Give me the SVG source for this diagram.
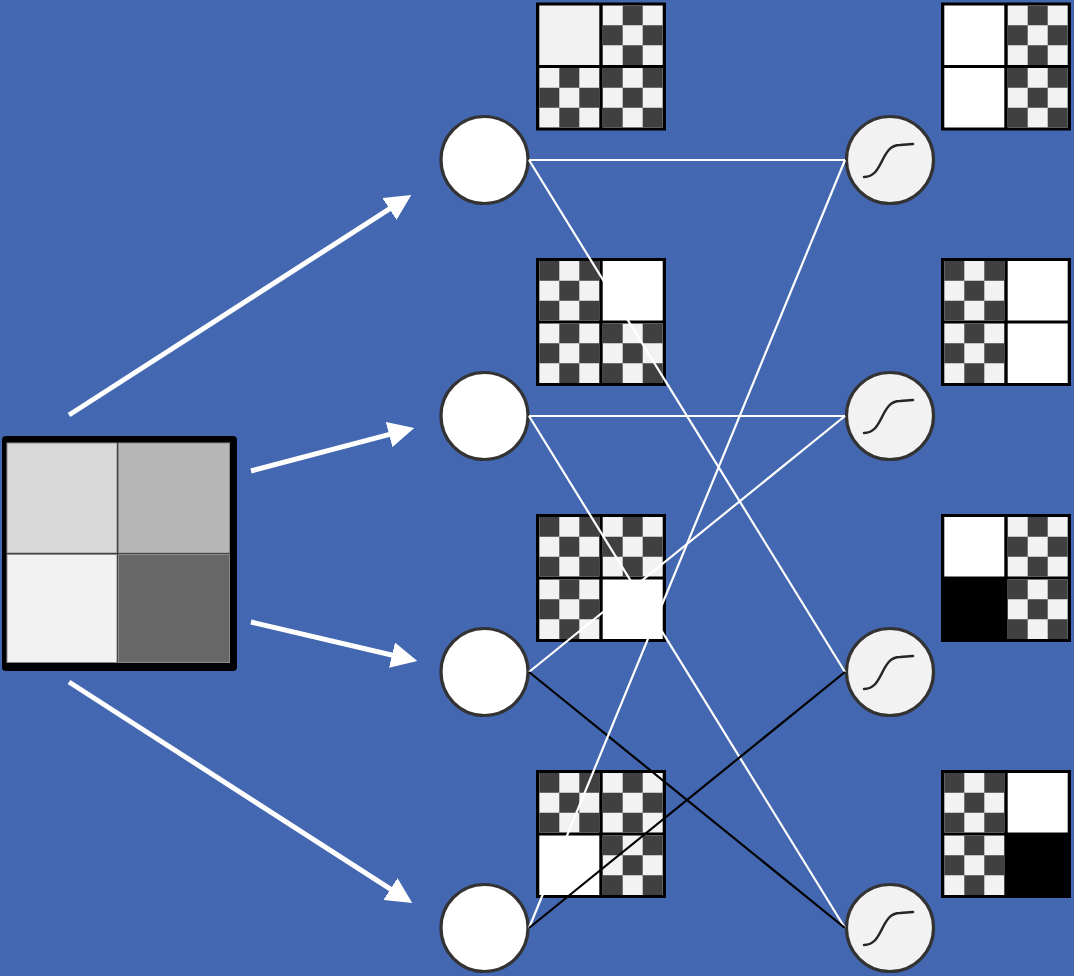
<svg xmlns="http://www.w3.org/2000/svg" width="1074" height="976" viewBox="0 0 1074 976">
<style>
.frame{fill:#000}
.hid{fill:#fff;stroke:#333;stroke-width:3.2}
.out{fill:#f2f2f2;stroke:#333;stroke-width:3.2}
.sig{fill:none;stroke:#262626;stroke-width:2.5;stroke-linecap:round}
.cw{stroke:#fff;stroke-width:2.2;fill:none}
.cb{stroke:#000;stroke-width:2.2;fill:none}
.arr{stroke:#fff;stroke-width:5;fill:none;marker-end:url(#ah)}
.cell{stroke:#8a8a8a;stroke-width:1}
</style>
<defs>
<g id="ckD">
<rect width="60" height="59.5" fill="#f2f2f2"/>
<path d="M0,0h20v19.8h-20z M40,0h20v19.8h-20z M20,19.8h20v19.9h-20z M0,39.7h20v19.8h-20z M40,39.7h20v19.8h-20z" fill="#404040"/>
</g>
<g id="ckL">
<rect width="60" height="59.5" fill="#f2f2f2"/>
<path d="M20,0h20v19.8h-20z M0,19.8h20v19.9h-20z M40,19.8h20v19.9h-20z M20,39.7h20v19.8h-20z" fill="#404040"/>
</g>
<marker id="ah" viewBox="0 0 10 10" markerWidth="5.2" markerHeight="5.2" refX="7" refY="5" orient="auto" markerUnits="strokeWidth">
<path d="M0,0 L10,5 L0,10 z" fill="#fff"/>
</marker>
<path id="sigp" d="M-26,17 C-6,17 -10,-15 10,-15 L23,-16"/>
</defs>
<rect width="1074" height="976" fill="#4467b1"/>

<g id="input">
<rect x="2" y="436" width="235" height="235" rx="4" fill="#000"/>
<rect class="cell" x="7" y="443" width="110" height="110" fill="#d9d9d9"/>
<rect class="cell" x="118.5" y="443" width="111" height="110" fill="#b7b7b7"/>
<rect class="cell" x="7" y="554.5" width="110" height="108" fill="#f2f2f2"/>
<rect class="cell" x="118.5" y="554.5" width="111" height="108" fill="#676767"/>
</g>

<g id="hidden-1">
<circle class="hid" cx="484.5" cy="160" r="43.5"/>
<g id="hidden-1-grid" transform="translate(536,2.5)">
<rect class="frame" width="130" height="128"/>
<rect x="3.3" y="3" width="60" height="59.5" fill="#f2f2f2"/>
<use href="#ckL" x="66.7" y="3"/>
<use href="#ckL" x="3.3" y="65.5"/>
<use href="#ckD" x="66.7" y="65.5"/>
</g>
</g>
<g id="hidden-2">
<circle class="hid" cx="484.5" cy="416" r="43.5"/>
<g id="hidden-2-grid" transform="translate(536,258)">
<rect class="frame" width="130" height="128"/>
<use href="#ckD" x="3.3" y="3"/>
<rect x="66.7" y="3" width="60" height="59.5" fill="#fff"/>
<use href="#ckL" x="3.3" y="65.5"/>
<use href="#ckD" x="66.7" y="65.5"/>
</g>
</g>
<g id="hidden-3">
<circle class="hid" cx="484.5" cy="672" r="43.5"/>
<g id="hidden-3-grid" transform="translate(536,514)">
<rect class="frame" width="130" height="128"/>
<use href="#ckD" x="3.3" y="3"/>
<use href="#ckL" x="66.7" y="3"/>
<use href="#ckL" x="3.3" y="65.5"/>
<rect x="66.7" y="65.5" width="60" height="59.5" fill="#fff"/>
</g>
</g>
<g id="hidden-4">
<circle class="hid" cx="484.5" cy="928" r="43.5"/>
<g id="hidden-4-grid" transform="translate(536,770)">
<rect class="frame" width="130" height="128"/>
<use href="#ckD" x="3.3" y="3"/>
<use href="#ckL" x="66.7" y="3"/>
<rect x="3.3" y="65.5" width="60" height="59.5" fill="#fff"/>
<use href="#ckD" x="66.7" y="65.5"/>
</g>
</g>

<g id="output-1">
<circle class="out" cx="890" cy="160" r="43.5"/>
<use class="sig" href="#sigp" x="890" y="160"/>
<g id="output-1-grid" transform="translate(941,2.5)">
<rect class="frame" width="130" height="128"/>
<rect x="3.3" y="3" width="60" height="59.5" fill="#fff"/>
<use href="#ckL" x="66.7" y="3"/>
<rect x="3.3" y="65.5" width="60" height="59.5" fill="#fff"/>
<use href="#ckD" x="66.7" y="65.5"/>
</g>
</g>
<g id="output-2">
<circle class="out" cx="890" cy="416" r="43.5"/>
<use class="sig" href="#sigp" x="890" y="416"/>
<g id="output-2-grid" transform="translate(941,258)">
<rect class="frame" width="130" height="128"/>
<use href="#ckD" x="3.3" y="3"/>
<rect x="66.7" y="3" width="60" height="59.5" fill="#fff"/>
<use href="#ckL" x="3.3" y="65.5"/>
<rect x="66.7" y="65.5" width="60" height="59.5" fill="#fff"/>
</g>
</g>
<g id="output-3">
<circle class="out" cx="890" cy="672" r="43.5"/>
<use class="sig" href="#sigp" x="890" y="672"/>
<g id="output-3-grid" transform="translate(941,514)">
<rect class="frame" width="130" height="128"/>
<rect x="3.3" y="3" width="60" height="59.5" fill="#fff"/>
<use href="#ckL" x="66.7" y="3"/>
<use href="#ckD" x="66.7" y="65.5"/>
</g>
</g>
<g id="output-4">
<circle class="out" cx="890" cy="928" r="43.5"/>
<use class="sig" href="#sigp" x="890" y="928"/>
<g id="output-4-grid" transform="translate(941,770)">
<rect class="frame" width="130" height="128"/>
<use href="#ckD" x="3.3" y="3"/>
<rect x="66.7" y="3" width="60" height="59.5" fill="#fff"/>
<use href="#ckL" x="3.3" y="65.5"/>
</g>
</g>

<g id="connectors">
<line class="cw" x1="529" y1="160" x2="845" y2="160"/>
<line class="cw" x1="529" y1="160" x2="845" y2="672"/>
<line class="cw" x1="529" y1="416" x2="845" y2="416"/>
<line class="cw" x1="529" y1="416" x2="845" y2="928"/>
<line class="cw" x1="529" y1="672" x2="845" y2="416"/>
<line class="cb" x1="529" y1="672" x2="845" y2="928"/>
<line class="cw" x1="529" y1="928" x2="845" y2="160"/>
<line class="cb" x1="529" y1="928" x2="845" y2="672"/>
</g>

<g id="arrows">
<line class="arr" x1="69" y1="415" x2="404.7" y2="199.1"/>
<line class="arr" x1="251" y1="471" x2="406.7" y2="429.9"/>
<line class="arr" x1="251" y1="622" x2="409.7" y2="659.3"/>
<line class="arr" x1="69" y1="682" x2="405.7" y2="898.9"/>
</g>
</svg>
